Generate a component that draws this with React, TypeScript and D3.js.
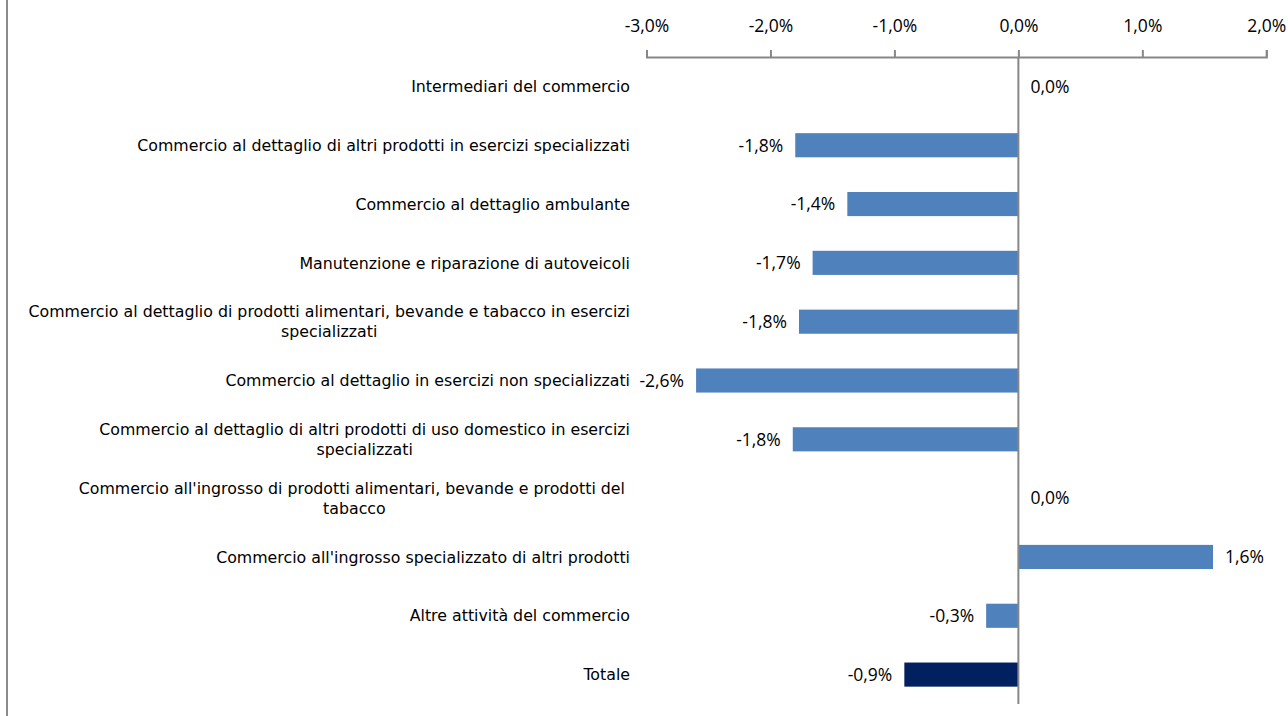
import { useEffect, useRef } from 'react';
import * as d3 from 'd3';

// Categories (top to bottom) and their % change
const categories = [
  'Intermediari del commercio',
  'Commercio al dettaglio di altri prodotti in esercizi specializzati',
  'Commercio al dettaglio ambulante',
  'Manutenzione e riparazione di autoveicoli',
  'Commercio al dettaglio di prodotti alimentari, bevande e tabacco in esercizi\nspecializzati',
  'Commercio al dettaglio in esercizi non specializzati',
  'Commercio al dettaglio di altri prodotti di uso domestico in esercizi\nspecializzati',
  "Commercio all'ingrosso di prodotti alimentari, bevande e prodotti del \ntabacco",
  "Commercio all'ingrosso specializzato di altri prodotti",
  'Altre attività del commercio',
  'Totale',
];
const values = [0.0, -1.8, -1.38, -1.66, -1.77, -2.6, -1.82, 0.0, 1.57, -0.26, -0.92];
const ticks = [-3, -2, -1, 0, 1, 2];
const totalCategory = 'Totale';

const WIDTH = 1288;
const HEIGHT = 716;

const itLocale = d3.formatLocale({
  decimal: ',',
  thousands: '.',
  grouping: [3],
  currency: ['€', ''],
  minus: '-',
});
const fmt = (v: number) => itLocale.format('.1f')(v) + '%';

export default function App() {
  const svgRef = useRef<SVGSVGElement>(null);

  useEffect(() => {
    document.body.style.margin = '0';
    if (!svgRef.current) return;
    const svg = d3.select(svgRef.current);
    svg.selectAll('*').remove();

    const x = d3.scaleLinear().domain([-3, 2]).range([646.5, 1266.3]);
    const y = d3.scaleBand<string>()
      .domain(categories)
      .range([57, 704])
      .paddingInner(0.59)
      .paddingOuter(0.295);

    const numFont = "'Open Sans', sans-serif";
    const catFont = "'DejaVu Sans', Verdana, sans-serif";

    // left border line
    svg.append('line')
      .attr('x1', 7).attr('x2', 7).attr('y1', 0).attr('y2', HEIGHT)
      .attr('stroke', '#8c8c8c').attr('stroke-width', 2);

    // top axis
    const axis = svg.append('g')
      .attr('transform', `translate(0,${57})`)
      .call(d3.axisTop(x).tickValues(ticks).tickSize(7).tickFormat(d => fmt(d as number)));
    axis.attr('font-size', null).attr('font-family', null);
    axis.selectAll('path, line').attr('stroke', '#878787').attr('stroke-width', 2);
    axis.selectAll('text')
      .attr('y', -25)
      .attr('dy', 0)
      .attr('fill', '#000')
      .style('font-family', numFont)
      .style('font-size', '17.5px');

    // bars
    svg.append('g')
      .selectAll('rect')
      .data(categories)
      .join('rect')
      .attr('x', (_d, i) => x(Math.min(0, values[i])))
      .attr('width', (_d, i) => Math.abs(x(values[i]) - x(0)))
      .attr('y', d => y(d)!)
      .attr('height', y.bandwidth())
      .attr('fill', d => (d === totalCategory ? '#002060' : '#4f81bd'));

    // zero line
    svg.append('line')
      .attr('x1', x(0)).attr('x2', x(0)).attr('y1', 57).attr('y2', 704)
      .attr('stroke', '#878787').attr('stroke-width', 2);

    // value labels
    svg.append('g')
      .selectAll('text')
      .data(categories)
      .join('text')
      .attr('x', (_d, i) => (values[i] < 0 ? x(values[i]) - 12 : x(values[i]) + 12))
      .attr('y', d => y(d)! + y.bandwidth() / 2)
      .attr('dy', '0.36em')
      .attr('text-anchor', (_d, i) => (values[i] < 0 ? 'end' : 'start'))
      .attr('fill', '#000')
      .style('font-family', numFont)
      .style('font-size', '17.5px')
      .text((_d, i) => fmt(values[i]));

    // category labels (lines centred inside a right-aligned block)
    const right = 630;
    const lineH = 20;
    const labels = svg.append('g');
    categories.forEach(cat => {
      const lines = cat.split('\n');
      const cy = y(cat)! + y.bandwidth() / 2;
      const t = labels.append('text')
        .attr('fill', '#000')
        .style('font-family', catFont)
        .style('font-size', '15.8px')
        .style('white-space', 'pre');
      const spans = lines.map((ln, j) =>
        t.append('tspan')
          .attr('y', cy + (j - (lines.length - 1) / 2) * lineH)
          .attr('dy', '0.36em')
          .text(ln)
      );
      const maxW = d3.max(spans, s => (s.node() as SVGTSpanElement).getComputedTextLength()) ?? 0;
      spans.forEach(s => s.attr('x', right - maxW / 2).attr('text-anchor', 'middle'));
    });
  }, []);

  return <svg ref={svgRef} width={WIDTH} height={HEIGHT} style={{ display: 'block', background: '#fff' }} />;
}
